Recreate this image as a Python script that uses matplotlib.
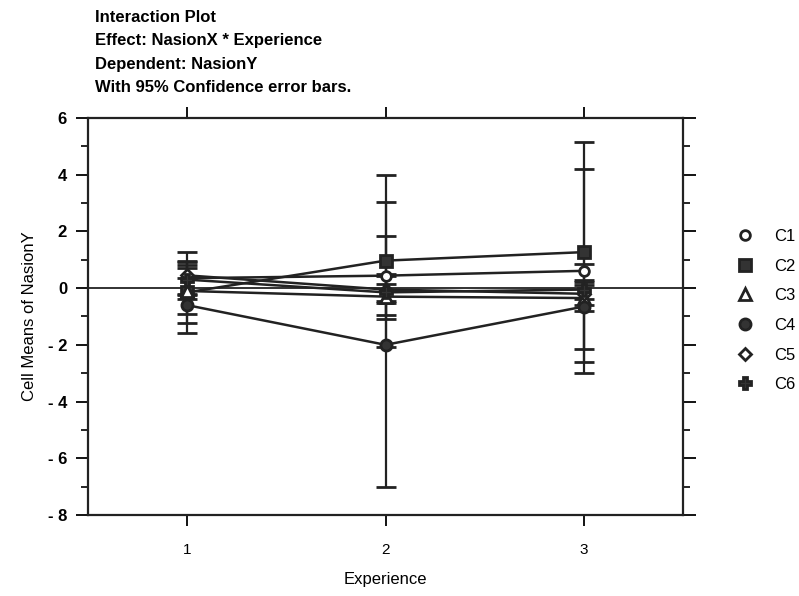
import matplotlib
matplotlib.use("Agg")
import matplotlib.pyplot as plt
from matplotlib.lines import Line2D
from matplotlib.ticker import MultipleLocator, FixedFormatter, FixedLocator

plt.rcParams.update({
    "font.family": "Liberation Sans",
    "font.size": 11,
})

# --- datos ---
experience = [1, 2, 3]
series = ["C1", "C2", "C3", "C4", "C5", "C6"]
c1_mean = [0.35, 0.44, 0.61]
c2_mean = [-0.15, 0.97, 1.27]
c3_mean = [-0.10, -0.30, -0.35]
c4_mean = [-0.60, -2.00, -0.65]
c5_mean = [0.45, -0.05, -0.20]
c6_mean = [0.30, -0.15, -0.05]
c1_ci = [0.60, 1.40, 3.60]
c2_ci = [1.07, 3.03, 3.88]
c3_ci = [0.80, 0.80, 0.45]
c4_ci = [0.97, 5.02, 1.50]
c5_ci = [0.84, 0.46, 0.40]
c6_ci = [0.50, 0.30, 0.35]

means = [c1_mean, c2_mean, c3_mean, c4_mean, c5_mean, c6_mean]
cis = [c1_ci, c2_ci, c3_ci, c4_ci, c5_ci, c6_ci]
markers = ["o", "s", "^", "o", "D", "P"]
faces = ["white", "#333333", "white", "#333333", "white", "#333333"]
msizes = [7, 8, 8, 8, 6, 9]

fig = plt.figure(figsize=(7.99, 5.96), dpi=100)
ax = fig.add_axes([0.110, 0.136, 0.745, 0.666])

ax.axhline(0, color="#222222", lw=1.3, zorder=1)

for m, e, mk, fc, ms in zip(means, cis, markers, faces, msizes):
    ax.errorbar(experience, m, yerr=e, fmt="-", marker=mk, color="#222222",
                mfc=fc, mec="#222222", mew=2, ms=ms, lw=1.8,
                elinewidth=1.6, capsize=7, capthick=1.6, zorder=3)

ax.set_xlim(0.5, 3.5)
ax.set_ylim(-8, 6)
ax.xaxis.set_major_locator(FixedLocator(experience))
ax.set_xticklabels(["1", "2", "3"])
ax.yaxis.set_major_locator(FixedLocator([6, 4, 2, 0, -2, -4, -6, -8]))
ax.yaxis.set_major_formatter(FixedFormatter(["6", "4", "2", "0", "- 2", "- 4", "- 6", "- 8"]))
ax.yaxis.set_minor_locator(MultipleLocator(1))
ax.tick_params(axis="x", which="both", top=True, direction="out", length=8, width=1.3,
               pad=12, labelsize=11)
ax.tick_params(axis="y", which="major", right=True, direction="out", length=9, width=1.3,
               pad=6, labelsize=12)
ax.tick_params(axis="y", which="minor", right=True, direction="out", length=5, width=1.2)
for lab in ax.get_yticklabels():
    lab.set_fontweight("bold")
for s in ax.spines.values():
    s.set_linewidth(1.6)
    s.set_color("#222222")

ax.set_xlabel("Experience", fontsize=12, labelpad=11)
ax.set_ylabel("Cell Means of NasionY", fontsize=12, labelpad=8)

titulo = ["Interaction Plot", "Effect: NasionX * Experience",
          "Dependent: NasionY", "With 95% Confidence error bars."]
for i, t in enumerate(titulo):
    fig.text(0.119, 0.984 - i * 0.0395, t, fontsize=12, fontweight="bold",
             va="top", ha="left")

handles = [Line2D([], [], ls="none", marker=mk, color="#222222", mfc=fc,
                  mec="#222222", mew=2, ms=ms)
           for mk, fc, ms in zip(markers, faces, msizes)]
ax.legend(handles, series, loc="center left", bbox_to_anchor=(1.065, 0.515),
          frameon=False, handlelength=1.0, handletextpad=1.25,
          labelspacing=0.88, fontsize=12)

fig.savefig("out.png", dpi=100, facecolor="white")
